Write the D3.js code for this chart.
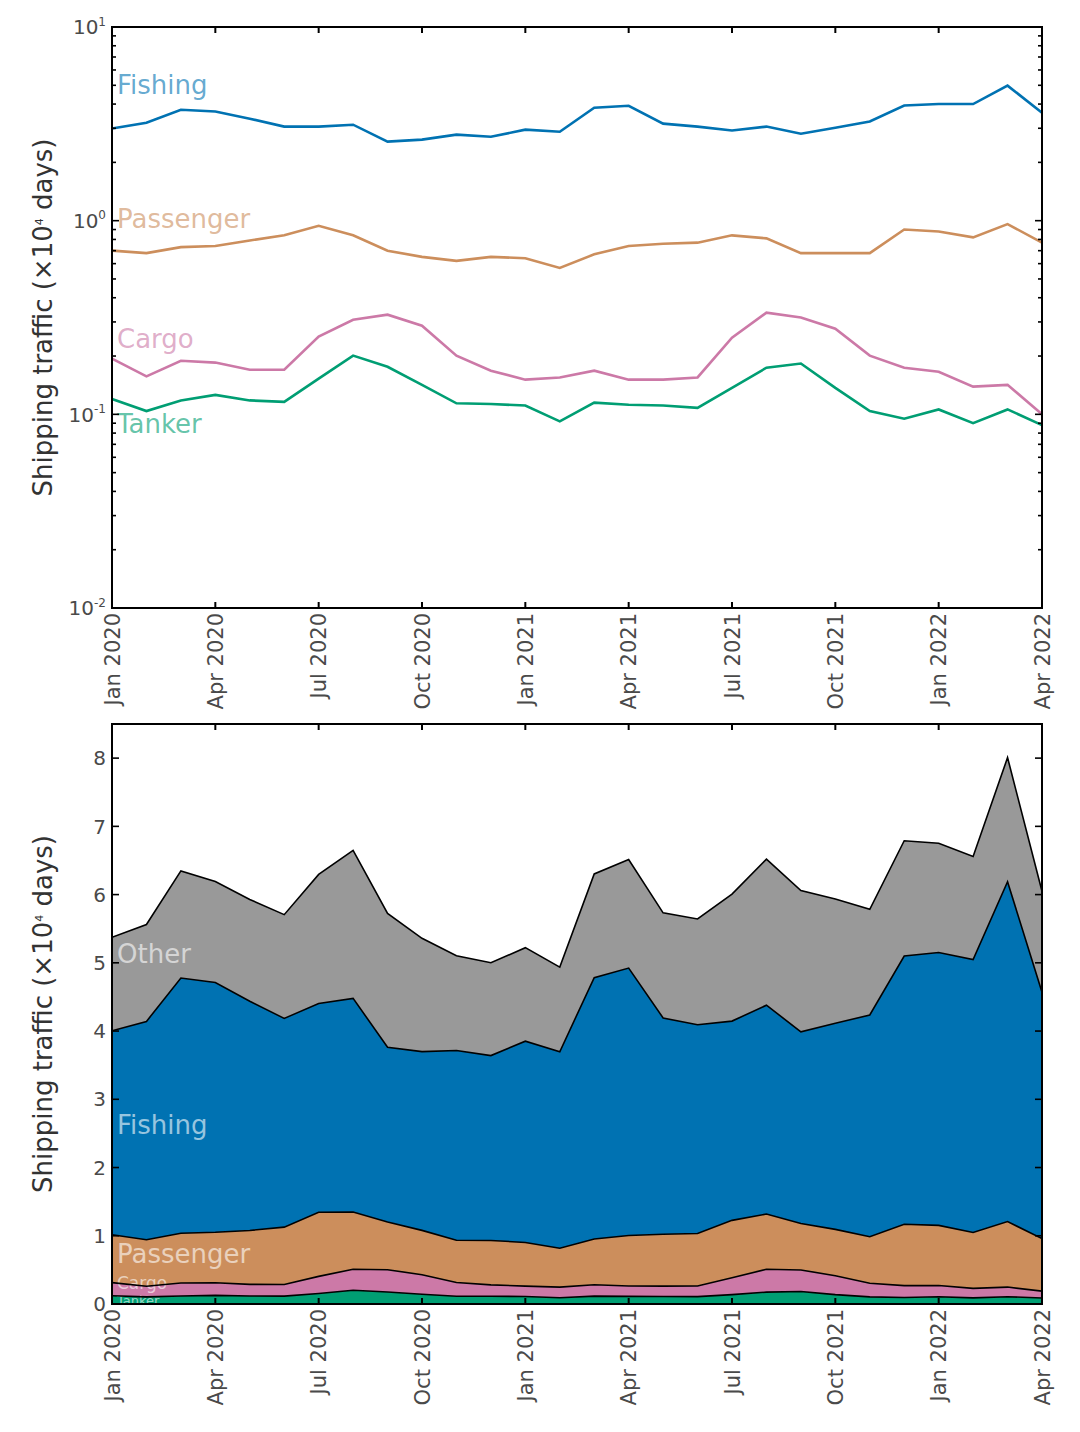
<!DOCTYPE html>
<html><head><meta charset="utf-8">
<script src="https://cdn.jsdelivr.net/npm/d3@7"></script>
<style>body{margin:0;background:#fff} text{font-family:"DejaVu Sans",sans-serif}</style>
</head><body><svg id="c" width="1080" height="1432"></svg>
<script>
// ---- data ----
const months = ["2020-01","2020-02","2020-03","2020-04","2020-05","2020-06","2020-07","2020-08","2020-09","2020-10","2020-11","2020-12",
  "2021-01","2021-02","2021-03","2021-04","2021-05","2021-06","2021-07","2021-08","2021-09","2021-10","2021-11","2021-12",
  "2022-01","2022-02","2022-03","2022-04"];
const tickLabels = ["Jan 2020","Apr 2020","Jul 2020","Oct 2020","Jan 2021","Apr 2021","Jul 2021","Oct 2021","Jan 2022","Apr 2022"];
const tickMonths = ["2020-01","2020-04","2020-07","2020-10","2021-01","2021-04","2021-07","2021-10","2022-01","2022-04"];
const fishing   = [2.99,3.20,3.74,3.66,3.36,3.06,3.06,3.13,2.56,2.62,2.78,2.71,2.95,2.88,3.83,3.92,3.17,3.06,2.92,3.06,2.81,3.02,3.25,3.93,4.00,4.00,4.98,3.61];
const passenger = [0.70,0.68,0.73,0.74,0.79,0.84,0.94,0.84,0.70,0.65,0.62,0.65,0.64,0.57,0.67,0.74,0.76,0.77,0.84,0.81,0.68,0.68,0.68,0.90,0.88,0.82,0.96,0.77];
const cargo     = [0.194,0.157,0.189,0.185,0.170,0.170,0.252,0.308,0.327,0.287,0.201,0.168,0.151,0.155,0.168,0.151,0.151,0.155,0.249,0.335,0.316,0.277,0.201,0.174,0.166,0.139,0.142,0.100];
const tanker    = [0.120,0.104,0.118,0.126,0.118,0.116,0.153,0.201,0.176,0.142,0.114,0.113,0.111,0.092,0.115,0.112,0.111,0.108,0.137,0.174,0.183,0.137,0.104,0.095,0.106,0.090,0.106,0.088];
const other     = [1.37,1.42,1.57,1.48,1.49,1.52,1.89,2.17,1.96,1.66,1.39,1.36,1.37,1.24,1.52,1.59,1.54,1.55,1.86,2.14,2.07,1.82,1.55,1.69,1.60,1.51,1.82,1.48];
const seriesNames = ["Tanker","Cargo","Passenger","Fishing","Other"];
const colors = {Tanker:"#009E73",Cargo:"#CC79A7",Passenger:"#CC8E5C",Fishing:"#0072B2",Other:"#999999"};
const logTicks = [0.01,0.1,1,10];
const linTicks = [0,1,2,3,4,5,6,7,8];
// label anchor values
const topLabelVals = {Fishing:4.5,Passenger:0.92,Cargo:0.22,Tanker:0.080};
const botLabelVals = {Other:5.0,Fishing:2.49,Passenger:0.6,Cargo:0.22,Tanker:-0.01};

const seriesVals = {Tanker:tanker,Cargo:cargo,Passenger:passenger,Fishing:fishing,Other:other};
const rows = months.map((m,i)=>{const r={month:m,i}; seriesNames.forEach(k=>r[k]=seriesVals[k][i]); return r;});

const svg = d3.select("#c");
const L=112, R=1042;
const x = d3.scaleLinear().domain([0, months.length-1]).range([L,R]);
const mi = m => months.indexOf(m);
const tickCol="#4a4a4a";

function frame(g, top, bottom){
  g.append("rect").attr("x",L).attr("y",top).attr("width",R-L).attr("height",bottom-top)
   .attr("fill","none").attr("stroke","#000").attr("stroke-width",2);
  tickMonths.forEach((m,j)=>{
    const xx=x(mi(m));
    g.append("line").attr("x1",xx).attr("x2",xx).attr("y1",bottom).attr("y2",bottom-6).attr("stroke","#000").attr("stroke-width",2);
    g.append("line").attr("x1",xx).attr("x2",xx).attr("y1",top).attr("y2",top+6).attr("stroke","#000").attr("stroke-width",2);
    g.append("text").attr("transform",`translate(${xx},${bottom+5}) rotate(-90)`)
     .attr("text-anchor","end").attr("dy","0.36em").attr("font-size",21).attr("fill",tickCol).text(tickLabels[j]);
  });
}
function ylabel(g, cy){
  const t=g.append("text").attr("transform",`translate(52,${cy}) rotate(-90)`).attr("text-anchor","middle")
    .attr("font-size",26).attr("fill","#333");
  t.append("tspan").text("Shipping traffic (×10");
  t.append("tspan").attr("font-size",11).attr("dy","-0.8em").text("4");
  t.append("tspan").attr("dy","0.34em").attr("font-size",26).text(" days)");
}

// ---------- TOP ----------
const T1=27, B1=608;
const y1 = d3.scaleLog().domain([0.01,10]).range([B1,T1]);
const g1 = svg.append("g");
const line = k => d3.line().x(d=>x(d.i)).y(d=>y1(d[k]));
["Fishing","Passenger","Cargo","Tanker"].forEach(k=>{
  g1.append("path").datum(rows).attr("d",line(k)).attr("fill","none").attr("stroke",colors[k]).attr("stroke-width",2.6);
  g1.append("text").attr("x",117).attr("y",y1(topLabelVals[k])).attr("font-size",26)
    .attr("fill",colors[k]).attr("fill-opacity",0.62).text(k);
});
// log ticks
for(let e=-2;e<=0;e++){
  for(let m=1;m<=9;m++){
    const v=m*Math.pow(10,e), yy=y1(v), len = m===1?7:4;
    [[L,L+len],[R,R-len]].forEach(([a,b])=>g1.append("line").attr("x1",a).attr("x2",b).attr("y1",yy).attr("y2",yy).attr("stroke","#000").attr("stroke-width",1.6));
  }
}
logTicks.forEach(v=>{
  const e=Math.round(Math.log10(v));
  const t=g1.append("text").attr("x",106).attr("y",y1(v)).attr("dy","0.36em").attr("text-anchor","end").attr("font-size",20).attr("fill",tickCol);
  t.append("tspan").text("10");
  t.append("tspan").attr("font-size",12).attr("dy","-0.7em").text(String(e));
});
frame(g1,T1,B1);
ylabel(g1,(T1+B1)/2);

// ---------- BOTTOM ----------
const T2=724, B2=1304;
const y2 = d3.scaleLinear().domain([0,8.5]).range([B2,T2]);
const g2 = svg.append("g");
const stack = d3.stack().keys(seriesNames)(rows);
svg.append("defs").append("clipPath").attr("id","clip2").append("rect").attr("x",L).attr("y",T2).attr("width",R-L).attr("height",B2-T2);
const gc = g2.append("g").attr("clip-path","url(#clip2)");
const area = d3.area().x(d=>x(d.data.i)).y0(d=>y2(d[0])).y1(d=>y2(d[1]));
stack.forEach(s=>{
  gc.append("path").datum(s).attr("d",area).attr("fill",colors[s.key]);
});
const botSizes={Other:26,Fishing:26,Passenger:26,Cargo:17,Tanker:13};
seriesNames.forEach(k=>{
  gc.append("text").attr("x",117).attr("y",y2(botLabelVals[k])).attr("font-size",botSizes[k])
    .attr("fill","#fff").attr("fill-opacity",0.6).text(k);
});
stack.forEach(s=>{
  gc.append("path").datum(s).attr("d",d3.line().x(d=>x(d.data.i)).y(d=>y2(d[1])))
    .attr("fill","none").attr("stroke","#000").attr("stroke-width",1.6);
});
linTicks.forEach(v=>{
  const yy=y2(v);
  [[L,L+7],[R,R-7]].forEach(([a,b])=>g2.append("line").attr("x1",a).attr("x2",b).attr("y1",yy).attr("y2",yy).attr("stroke","#000").attr("stroke-width",1.6));
  g2.append("text").attr("x",106).attr("y",yy).attr("dy","0.36em").attr("text-anchor","end").attr("font-size",20).attr("fill",tickCol).text(v);
});
frame(g2,T2,B2);
ylabel(g2,(T2+B2)/2);
</script></body></html>
